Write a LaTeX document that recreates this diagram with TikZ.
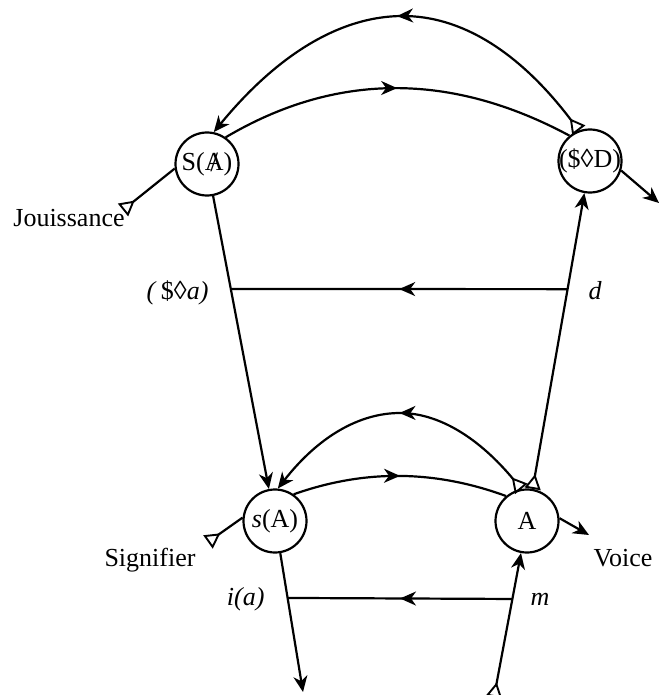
\documentclass[tikz,border=0pt]{standalone}
\usepackage{fontspec}
\setmainfont{Liberation Serif}
\usetikzlibrary{arrows.meta,decorations.markings,calc}
\newcommand{\barredA}{\ooalign{A\cr\hidewidth\raisebox{-0.04em}{\scalebox{1.08}{/}}\hidewidth}}
\begin{document}
\begin{tikzpicture}[x=1pt,y=-1pt,
  every node/.style={font=\fontsize{26}{31}\selectfont},
  circ/.style={draw, circle, minimum size=63pt, inner sep=0pt, line width=2.2pt},
  wire/.style={line width=2.2pt},
  endtip/.style={-{Stealth[length=16pt,width=14pt,inset=5pt]}},
  starttri/.style={{Triangle[open,reversed,length=15pt,width=16pt,line width=1.9pt]}-},
  bothtips/.style={{Triangle[open,reversed,length=15pt,width=16pt,line width=1.9pt]}-{Stealth[length=16pt,width=14pt,inset=5pt]}},
  midarrow/.style={postaction={decorate}, decoration={markings, mark=at position 0.5 with {\arrow{Stealth[length=16pt,width=14pt,inset=5pt]}}}},
]
\useasboundingbox (0,0) rectangle (658,695);

% circle nodes
\node[circ, label={center:S(\barredA)}] (SA) at (207,164) {};
\node[circ, label={center:(\$◊D)}] (SD) at (590,161) {};
\node[circ, label={center:\textit{s}(A)}] (sA) at (275,521) {};
\node[circ, label={center:A}] (A) at (527,521) {};

% free ends and helper coordinates
\coordinate (jou) at (123,210);
\coordinate (sig) at (208,542);
\coordinate (bL) at (303,692);
\coordinate (bR) at (494,697);
\coordinate (edgeR) at (659,203);
\coordinate (voiceT) at (589,535);
\coordinate (pkU) at (403,16);
\coordinate (pkL) at (400,413);
\coordinate (dL) at ($(SA)!0.35!(sA)$);
\coordinate (dR) at ($(A)!0.644!(SD)$);
\coordinate (iL) at ($(sA)!0.45!(bL)$);
\coordinate (mR) at ($(bR)!0.557!(A)$);

% upper loop
\draw[wire, bothtips, midarrow] (SD.110) .. controls (518,50) and (460,16) .. (pkU)
   .. controls (340,16) and (277,55) .. (SA.78);
\draw[wire, midarrow] (SA.55) .. controls (336,72) and (451,72) .. (SD.129);

% lower loop
\draw[wire, bothtips, midarrow] (A.100) .. controls (479,438) and (439,413) .. (pkL)
   .. controls (359,413) and (318,437) .. (sA.85);
\draw[wire, midarrow] (sA.55) .. controls (365,469) and (435,470) .. (A.130);

% vertical connectors
\draw[wire, endtip] (SA) -- (sA);
\draw[wire, bothtips] (A) -- (SD);
\draw[wire, endtip] (sA) -- (bL);
\draw[wire, bothtips] (bR) -- (A);

% horizontal connectors
\draw[wire, midarrow] (dR) -- (dL);
\draw[wire, midarrow] (mR) -- (iL);

% side connectors
\draw[wire, starttri] (jou) -- (SA.188);
\draw[wire, starttri] (sig) -- (sA.174);
\draw[wire, endtip] (SD.-17) -- (edgeR);
\draw[wire, endtip] (A.5) -- (voiceT);

% labels
\node[anchor=base] (lJ) at (69,226) {Jouissance};
\node[anchor=base east] (lDa) at (212,299) {\textit{(}\,\$◊\textit{a)}};
\node[anchor=base west] (ld) at (585,299) {\textit{d}};
\node[anchor=base] (lS) at (150,566) {Signifier};
\node[anchor=base east] (li) at (268,605) {\textit{i(a)}};
\node[anchor=base west] (lm) at (527,605) {\textit{m}};
\node[anchor=base east] (lV) at (656,566) {Voice};
\end{tikzpicture}
\end{document}
